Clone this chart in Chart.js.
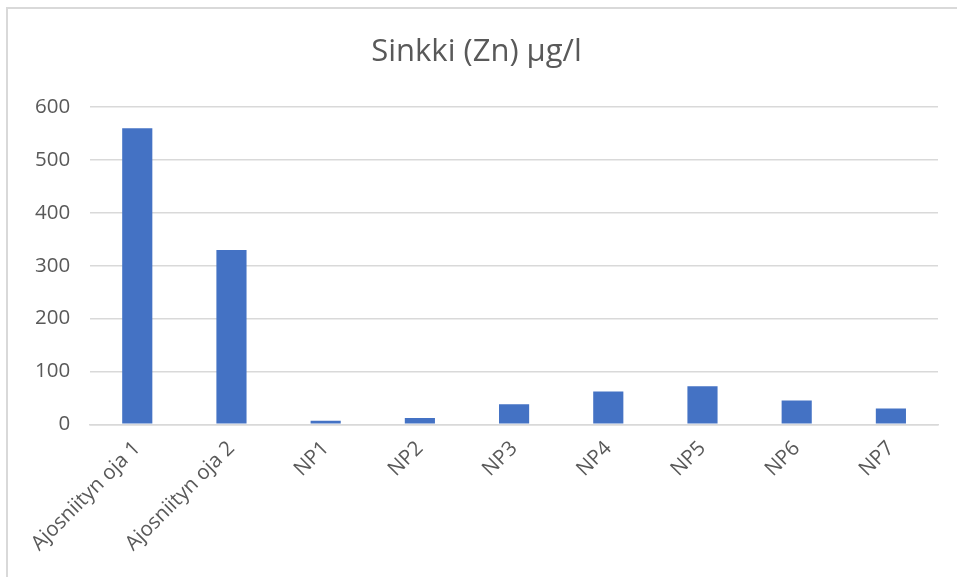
<!DOCTYPE html>
<html>
<head>
<meta charset="utf-8">
<script src="https://cdn.jsdelivr.net/npm/chart.js@4"></script>
<style>
  html, body { margin: 0; padding: 0; background: #fff; }
  #frame {
    position: absolute; left: 6px; top: 7px;
    width: 1000px; height: 600px;
    border-left: 2px solid #d9d9d9; border-top: 2px solid #d9d9d9;
  }
  #wrap { position: absolute; left: 0; top: 0; width: 957px; height: 577px; }
</style>
</head>
<body>
<div id="frame"></div>
<div id="wrap"><canvas id="chart"></canvas></div>
<script>
const categories = ['Ajosniityn oja 1', 'Ajosniityn oja 2', 'NP1', 'NP2', 'NP3', 'NP4', 'NP5', 'NP6', 'NP7'];
const zinc = [560, 330, 7, 12, 38, 62, 72, 45, 30];
const yTicks = [0, 100, 200, 300, 400, 500, 600];

const textColor = '#595959';
const fontFamily = '"Open Sans", "Noto Sans", sans-serif';

new Chart(document.getElementById('chart'), {
  type: 'bar',
  data: {
    labels: categories,
    datasets: [{
      label: 'Sinkki (Zn) µg/l',
      data: zinc,
      backgroundColor: '#4472C4',
      categoryPercentage: 1,
      barPercentage: 0.32
    }]
  },
  options: {
    responsive: true,
    maintainAspectRatio: false,
    animation: false,
    layout: { padding: { left: 15, right: 19, top: 1, bottom: 17 } },
    scales: {
      x: {
        grid: { display: false },
        border: { color: '#d9d9d9', width: 1.5 },
        ticks: {
          color: textColor,
          font: { family: fontFamily, size: 20.5 },
          minRotation: 45,
          maxRotation: 45,
          padding: 4
        }
      },
      y: {
        min: 0,
        max: 600,
        border: { display: false },
        grid: { color: '#d9d9d9', lineWidth: 1.5, drawTicks: false },
        afterBuildTicks: axis => { axis.ticks = yTicks.map(v => ({ value: v })); },
        ticks: {
          color: textColor,
          font: { family: fontFamily, size: 20.5 },
          padding: 20
        }
      }
    },
    plugins: {
      legend: { display: false },
      tooltip: { enabled: false },
      title: {
        display: true,
        text: 'Sinkki (Zn) µg/l',
        color: textColor,
        font: { family: fontFamily, size: 31, weight: 'normal' },
        padding: { top: 33, bottom: 36 }
      }
    }
  }
});
</script>
</body>
</html>
